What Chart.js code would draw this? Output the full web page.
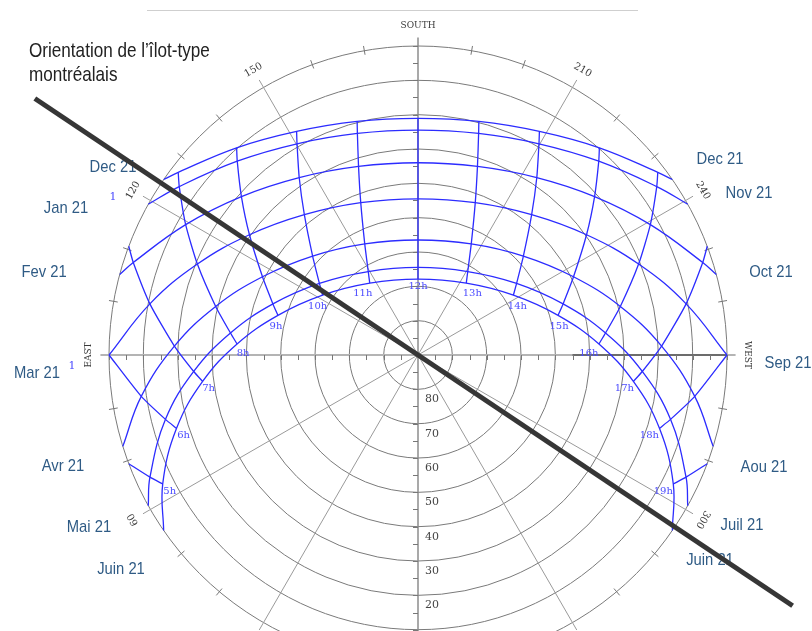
<!DOCTYPE html>
<html><head><meta charset="utf-8">
<script src="https://cdn.jsdelivr.net/npm/chart.js@4/dist/chart.umd.min.js"></script>
<style>html,body{margin:0;padding:0;background:#fff}canvas{display:block}</style>
</head><body>
<canvas id="c" width="812" height="631"></canvas>
<script>
// ---------- DATA (Montréal ~45.5°N) ----------
const hours = [5,6,7,8,9,10,11,12,13,14,15,16,17,18,19];
const hourLabels = ['5h','6h','7h','8h','9h','10h','11h','12h','13h','14h','15h','16h','17h','18h','19h'];
const curveNames = ['Dec 21','Jan 21 / Nov 21','Fev 21 / Oct 21','Mar 21 / Sep 21','Avr 21 / Aou 21','Mai 21 / Juil 21','Juin 21'];

// solar altitude (deg) at each hour, null = sun below horizon
const altDec = [null,null,null,2.2,9.8,15.9,19.7,21.1,19.7,15.9,9.8,2.2,null,null,null];
const altJan = [null,null,null,4.9,12.8,19.1,23.1,24.5,23.1,19.1,12.8,4.9,null,null,null];
const altFev = [null,null,2.8,12.4,20.9,27.8,32.4,34.0,32.4,27.8,20.9,12.4,2.8,null,null];
const altMar = [null,0,10.5,20.5,29.7,37.4,42.6,44.5,42.6,37.4,29.7,20.5,10.5,0,null];
const altAvr = [null,8.5,19.0,29.4,39.3,47.9,54.1,56.5,54.1,47.9,39.3,29.4,19.0,8.5,null];
const altMai = [4.2,14.1,24.5,35.0,45.2,54.5,61.7,64.5,61.7,54.5,45.2,35.0,24.5,14.1,4.2];
const altJuin = [6.7,16.5,26.8,37.2,47.6,57.2,64.8,67.9,64.8,57.2,47.6,37.2,26.8,16.5,6.7];

// solar azimuth (deg from north, clockwise) at each hour
const azDec = [null,null,null,127.3,138.8,151.5,165.4,180,194.6,208.5,221.2,232.7,null,null,null];
const azJan = [null,null,null,125.2,137.0,150.2,164.7,180,195.3,209.8,223.0,234.8,null,null,null];
const azFev = [null,null,108.0,119.3,131.9,146.2,162.5,180,197.5,213.8,228.1,240.7,252.0,null,null];
const azMar = [null,90,100.8,112.4,125.5,141.0,159.4,180,200.6,219.0,234.5,247.6,259.2,270,null];
const azAvr = [null,81.5,92.1,103.5,116.7,133.2,154.4,180,205.6,226.8,243.3,256.5,267.9,278.5,null];
const azMai = [65.5,75.7,85.8,96.7,109.4,126.0,149.2,180,210.8,234.0,250.6,263.3,274.2,284.3,294.5];
const azJuin = [63.2,73.1,83.0,93.5,105.8,122.1,146.1,180,213.9,237.9,254.2,266.5,277.0,286.9,296.8];

// sunrise / sunset azimuths (altitude 0) per curve
const riseAz = [124.6,119.2,105.1,null,72.8,60.8,55.4];
const setAz  = [235.4,240.8,254.9,null,287.2,299.2,304.6];
// where an hour line meets the horizon
const hourHorizonAz = [69.4,null,110.6,null,null,null,null,null,null,null,null,null,249.4,null,290.6];

const altRings = [80,70,60,50,40,30,20,10,0];
const altLabels = [80,70,60,50,40,30,20];
const azLabels = [60,120,150,210,240,300];
const radialAz = [30,60,120,150];
const compassNames = ['EAST','SOUTH','WEST'];
const compassAz = [90,180,270];
const monthsLeft  = ['Dec 21','Jan 21','Fev 21','Mar 21','Avr 21','Mai 21','Juin 21'];
const monthsRight = ['Dec 21','Nov 21','Oct 21','Sep 21','Aou 21','Juil 21','Juin 21'];
const orientationAz = [123.8,303.8];
const orientationReach = [134.3,131.3];
const titleLines = ["Orientation de l\u2019îlot-type","montréalais"];

// ---------- helpers ----------
const altTable = [altDec,altJan,altFev,altMar,altAvr,altMai,altJuin];
const azTable  = [azDec,azJan,azFev,azMar,azAvr,azMai,azJuin];
const rad = d => d*Math.PI/180;
// polar projection: zenith at centre, south up, east left
function toXY(az, alt){ const r = 90-alt; return {x: -r*Math.sin(rad(az)), y: -r*Math.cos(rad(az))}; }

const BLUE = '#2c2cff';
const datasets = [];
datasets.push({label:'Orientation', data: orientationAz.map((a,i)=>toXY(a, 90-orientationReach[i])),
  borderColor:'#363636', borderWidth:5, tension:0, order:-1});
curveNames.forEach((name,m)=>{
  const pts=[];
  if(riseAz[m]!=null) pts.push(toXY(riseAz[m],0));
  hours.forEach((h,i)=>{ if(altTable[m][i]!=null) pts.push(toXY(azTable[m][i], altTable[m][i])); });
  if(setAz[m]!=null) pts.push(toXY(setAz[m],0));
  datasets.push({label:name, data:pts, borderColor:BLUE, borderWidth:1.3, tension:0.4});
});
hours.forEach((h,i)=>{
  const pts=[];
  if(hourHorizonAz[i]!=null) pts.push(toXY(hourHorizonAz[i],0));
  for(let m=0;m<7;m++){ if(altTable[m][i]!=null) pts.push(toXY(azTable[m][i], altTable[m][i])); }
  datasets.push({label:hourLabels[i], data:pts, borderColor:BLUE, borderWidth:1.3, tension:0.2});
});

// ---------- layout (pixels) ----------
const hourLabelOffset = [[7,7],[7,7],[6,7],[6,9],[-2,11],[-5,11],[-7,10],[0,7],[6,10],[4,11],[1,11],[-10,9],[-9,7],[-10,7],[-10,7]];
const leftPos  = [[113,167],[66,208],[44,272],[37,373],[63,466],[89,527],[121,569]];
const rightPos = [[720,159],[749,193],[771,272],[788,363],[764,467],[742,525],[710,560]];
const SANS = '"Liberation Sans","Arial",sans-serif';
const SERIF = '"DejaVu Serif",serif';

function condensed(ctx, txt, x, y, sx){
  ctx.save(); ctx.translate(x,y); ctx.scale(sx,1); ctx.fillText(txt,0,0); ctx.restore();
}

const gridPlugin = {
  id:'grid',
  beforeDatasetsDraw(chart){
    const ctx = chart.ctx, xs = chart.scales.x, ys = chart.scales.y;
    const P = p => [xs.getPixelForValue(p.x), ys.getPixelForValue(p.y)];
    const cx = xs.getPixelForValue(0), cy = ys.getPixelForValue(0);
    const k = xs.getPixelForValue(1) - cx;
    ctx.save();
    // top rule
    ctx.strokeStyle='#cfcfcf'; ctx.lineWidth=1;
    ctx.beginPath(); ctx.moveTo(147,10.5); ctx.lineTo(638,10.5); ctx.stroke();
    // altitude rings
    ctx.strokeStyle='#7a7a7a'; ctx.lineWidth=1;
    altRings.forEach(a=>{ ctx.beginPath(); ctx.arc(cx,cy,(90-a)*k,0,Math.PI*2); ctx.stroke(); });
    // radial lines
    ctx.strokeStyle='#9a9a9a'; ctx.lineWidth=1;
    radialAz.forEach(a=>{
      const p1=P(toXY(a,90-92.5)), p2=P(toXY(a+180,90-92.5));
      ctx.beginPath(); ctx.moveTo(p1[0],p1[1]); ctx.lineTo(p2[0],p2[1]); ctx.stroke();
    });
    // main axes
    ctx.strokeStyle='#b4b4b4'; ctx.lineWidth=2;
    let p1=P(toXY(90,90-92.5)), p2=P(toXY(270,90-92.5));
    ctx.beginPath(); ctx.moveTo(p1[0],p1[1]); ctx.lineTo(p2[0],p2[1]); ctx.stroke();
    ctx.strokeStyle='#8c8c8c'; ctx.lineWidth=1.5;
    p1=P(toXY(180,90-92.5)); p2=P(toXY(0,90-92.5));
    ctx.beginPath(); ctx.moveTo(p1[0],p1[1]); ctx.lineTo(p2[0],p2[1]); ctx.stroke();
    // darker west segment
    ctx.strokeStyle='#555'; ctx.lineWidth=1.5;
    p1=P(toXY(270,45)); p2=P(toXY(270,0));
    ctx.beginPath(); ctx.moveTo(p1[0],p1[1]); ctx.lineTo(p2[0],p2[1]); ctx.stroke();
    // axis ticks
    ctx.strokeStyle='#777'; ctx.lineWidth=1;
    for(let r=5;r<=90;r+=5){
      [-1,1].forEach(s=>{
        const x = xs.getPixelForValue(s*r), y = ys.getPixelForValue(s*r);
        ctx.beginPath(); ctx.moveTo(Math.round(x)+0.5,cy); ctx.lineTo(Math.round(x)+0.5,cy+5); ctx.stroke();
        ctx.beginPath(); ctx.moveTo(cx-5,Math.round(y)+0.5); ctx.lineTo(cx,Math.round(y)+0.5); ctx.stroke();
      });
    }
    // outer ring azimuth ticks
    for(let a=10;a<360;a+=10){
      if(a%30===0) continue;
      const q1=P(toXY(a,1.2)), q2=P(toXY(a,-1.4));
      ctx.beginPath(); ctx.moveTo(q1[0],q1[1]); ctx.lineTo(q2[0],q2[1]); ctx.stroke();
    }
    // altitude labels
    ctx.fillStyle='#444'; ctx.font='11px '+SERIF; ctx.textAlign='center'; ctx.textBaseline='middle';
    altLabels.forEach(a=>{ ctx.fillText(String(a), cx+14, cy+(90-a)*k+10); });
    // azimuth + compass labels
    const rotLabel=(txt,az,font)=>{
      const p=P(toXY(az,90-95.8));
      ctx.save(); ctx.translate(p[0],p[1]); ctx.rotate(rad(az-180));
      ctx.font=font; ctx.fillStyle='#3a3a3a'; ctx.textAlign='center'; ctx.textBaseline='middle';
      ctx.fillText(txt,0,0); ctx.restore();
    };
    azLabels.forEach(a=>rotLabel(String(a),a,'10px '+SERIF));
    compassNames.forEach((n,i)=>rotLabel(n,compassAz[i],'9px '+SERIF));
    // hour labels next to the June 21 path
    ctx.fillStyle='#4b4bff'; ctx.font='10px '+SERIF; ctx.textAlign='center'; ctx.textBaseline='middle';
    hours.forEach((h,i)=>{
      const p=P(toXY(azJuin[i],altJuin[i]));
      ctx.fillText(hourLabels[i], p[0]+hourLabelOffset[i][0], p[1]+hourLabelOffset[i][1]);
    });
    ctx.font='11px '+SERIF;
    ctx.fillText('1',113,197); ctx.fillText('1',72,366);
    // month labels
    ctx.fillStyle='#2f5b85'; ctx.font='17px '+SANS; ctx.textAlign='center'; ctx.textBaseline='middle';
    monthsLeft.forEach((t,i)=>condensed(ctx,t,leftPos[i][0],leftPos[i][1],0.87));
    monthsRight.forEach((t,i)=>condensed(ctx,t,rightPos[i][0],rightPos[i][1],0.87));
    // title
    ctx.fillStyle='#222'; ctx.font='21px '+SANS; ctx.textAlign='left'; ctx.textBaseline='alphabetic';
    condensed(ctx,titleLines[0],29,57,0.815); condensed(ctx,titleLines[1],29,81,0.815);
    ctx.restore();
  }
};

const K = 309/90;
new Chart(document.getElementById('c'), {
  type:'scatter',
  data:{datasets},
  options:{
    responsive:false, animation:false, events:[],
    layout:{padding:0},
    elements:{point:{radius:0,hoverRadius:0}, line:{fill:false}},
    datasets:{scatter:{showLine:true}},
    plugins:{legend:{display:false}, tooltip:{enabled:false}},
    scales:{
      x:{type:'linear', display:false, min:-418/K, max:(812-418)/K},
      y:{type:'linear', display:false, min:-(631-355)/K, max:355/K}
    }
  },
  plugins:[gridPlugin]
});
</script>
</body></html>
